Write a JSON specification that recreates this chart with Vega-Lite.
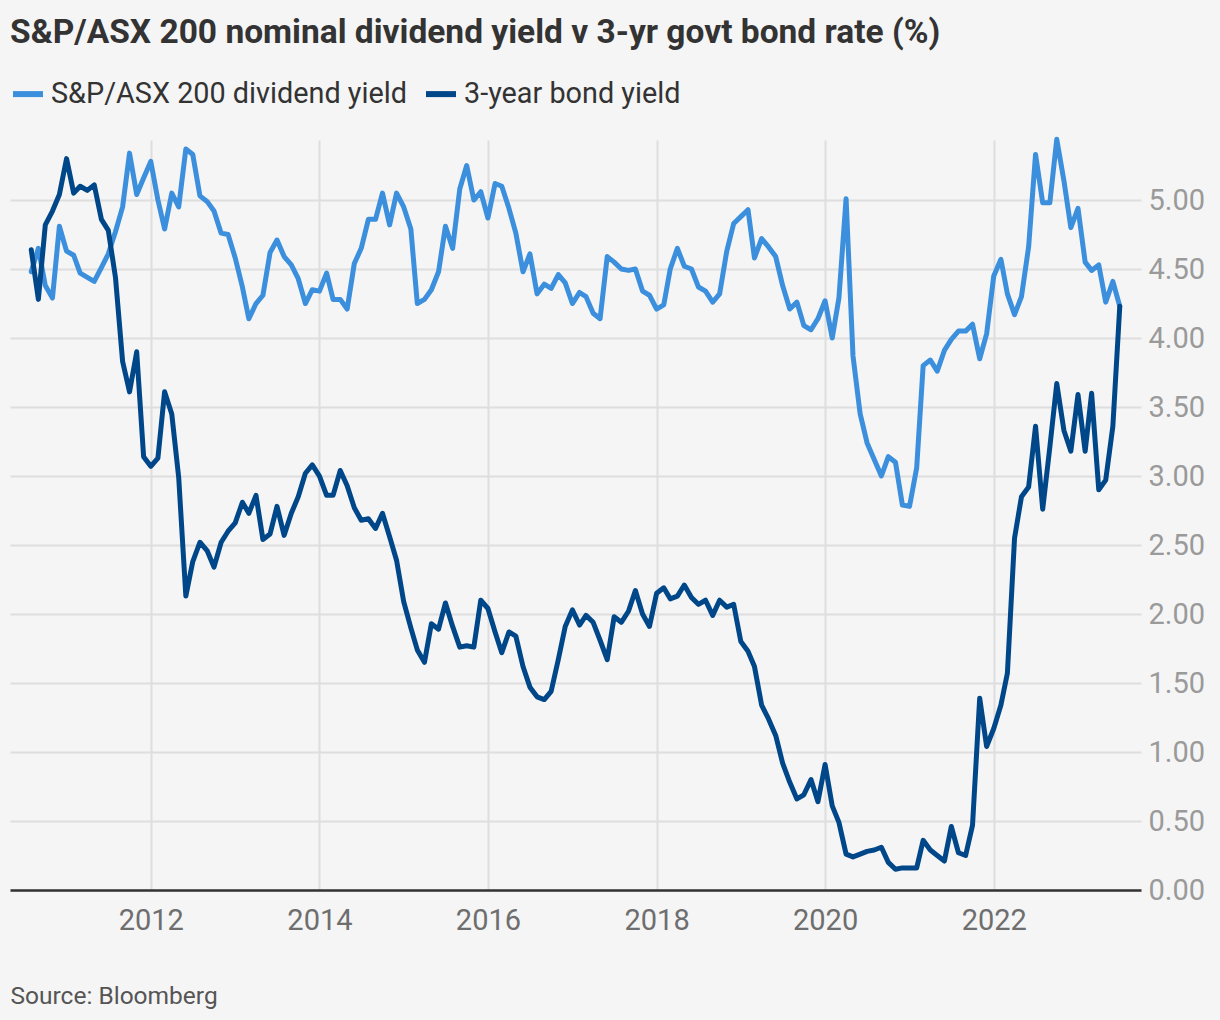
{
  "$schema": "https://vega.github.io/schema/vega-lite/v6.json",
  "width": 1131,
  "height": 750,
  "autosize": {"type": "none"},
  "padding": {"left": 10, "top": 140, "right": 79, "bottom": 130},
  "background": "#F5F5F5",
  "title": {
    "text": "S&P/ASX 200 nominal dividend yield v 3-yr govt bond rate (%)",
    "anchor": "start",
    "frame": "group",
    "font": "Roboto",
    "fontSize": 33.5,
    "fontWeight": "bold",
    "color": "#333333",
    "offset": 26
  },
  "config": {
    "view": {"stroke": null},
    "font": "Roboto",
    "axis": {"gridColor": "#DEDEDE", "gridWidth": 2, "ticks": false}
  },
  "datasets": {
    "dividend": [
      {"date": "2010-08-01", "value": 4.48}, {"date": "2010-09-01", "value": 4.65}, {"date": "2010-10-01", "value": 4.38}, {"date": "2010-11-01", "value": 4.29}, {"date": "2010-12-01", "value": 4.81},
      {"date": "2011-01-01", "value": 4.63}, {"date": "2011-02-01", "value": 4.60}, {"date": "2011-03-01", "value": 4.47}, {"date": "2011-04-01", "value": 4.44}, {"date": "2011-05-01", "value": 4.41}, {"date": "2011-06-01", "value": 4.51},
      {"date": "2011-07-01", "value": 4.61}, {"date": "2011-08-01", "value": 4.77}, {"date": "2011-09-01", "value": 4.95}, {"date": "2011-10-01", "value": 5.34}, {"date": "2011-11-01", "value": 5.04}, {"date": "2011-12-01", "value": 5.16},
      {"date": "2012-01-01", "value": 5.28}, {"date": "2012-02-01", "value": 5.00}, {"date": "2012-03-01", "value": 4.79}, {"date": "2012-04-01", "value": 5.05}, {"date": "2012-05-01", "value": 4.95}, {"date": "2012-06-01", "value": 5.37},
      {"date": "2012-07-01", "value": 5.33}, {"date": "2012-08-01", "value": 5.03}, {"date": "2012-09-01", "value": 4.99}, {"date": "2012-10-01", "value": 4.92}, {"date": "2012-11-01", "value": 4.76}, {"date": "2012-12-01", "value": 4.75},
      {"date": "2013-01-01", "value": 4.58}, {"date": "2013-02-01", "value": 4.37}, {"date": "2013-03-01", "value": 4.14}, {"date": "2013-04-01", "value": 4.25}, {"date": "2013-05-01", "value": 4.31}, {"date": "2013-06-01", "value": 4.62},
      {"date": "2013-07-01", "value": 4.71}, {"date": "2013-08-01", "value": 4.59}, {"date": "2013-09-01", "value": 4.53}, {"date": "2013-10-01", "value": 4.43}, {"date": "2013-11-01", "value": 4.25}, {"date": "2013-12-01", "value": 4.35},
      {"date": "2014-01-01", "value": 4.34}, {"date": "2014-02-01", "value": 4.47}, {"date": "2014-03-01", "value": 4.28}, {"date": "2014-04-01", "value": 4.28}, {"date": "2014-05-01", "value": 4.21}, {"date": "2014-06-01", "value": 4.54},
      {"date": "2014-07-01", "value": 4.65}, {"date": "2014-08-01", "value": 4.86}, {"date": "2014-09-01", "value": 4.86}, {"date": "2014-10-01", "value": 5.05}, {"date": "2014-11-01", "value": 4.82}, {"date": "2014-12-01", "value": 5.05},
      {"date": "2015-01-01", "value": 4.95}, {"date": "2015-02-01", "value": 4.79}, {"date": "2015-03-01", "value": 4.25}, {"date": "2015-04-01", "value": 4.28}, {"date": "2015-05-01", "value": 4.35}, {"date": "2015-06-01", "value": 4.48},
      {"date": "2015-07-01", "value": 4.81}, {"date": "2015-08-01", "value": 4.65}, {"date": "2015-09-01", "value": 5.08}, {"date": "2015-10-01", "value": 5.25}, {"date": "2015-11-01", "value": 5.00}, {"date": "2015-12-01", "value": 5.06},
      {"date": "2016-01-01", "value": 4.87}, {"date": "2016-02-01", "value": 5.12}, {"date": "2016-03-01", "value": 5.10}, {"date": "2016-04-01", "value": 4.94}, {"date": "2016-05-01", "value": 4.76}, {"date": "2016-06-01", "value": 4.48},
      {"date": "2016-07-01", "value": 4.61}, {"date": "2016-08-01", "value": 4.32}, {"date": "2016-09-01", "value": 4.39}, {"date": "2016-10-01", "value": 4.36}, {"date": "2016-11-01", "value": 4.46}, {"date": "2016-12-01", "value": 4.40},
      {"date": "2017-01-01", "value": 4.25}, {"date": "2017-02-01", "value": 4.33}, {"date": "2017-03-01", "value": 4.30}, {"date": "2017-04-01", "value": 4.18}, {"date": "2017-05-01", "value": 4.14}, {"date": "2017-06-01", "value": 4.59},
      {"date": "2017-07-01", "value": 4.55}, {"date": "2017-08-01", "value": 4.50}, {"date": "2017-09-01", "value": 4.49}, {"date": "2017-10-01", "value": 4.50}, {"date": "2017-11-01", "value": 4.34}, {"date": "2017-12-01", "value": 4.31},
      {"date": "2018-01-01", "value": 4.21}, {"date": "2018-02-01", "value": 4.24}, {"date": "2018-03-01", "value": 4.50}, {"date": "2018-04-01", "value": 4.65}, {"date": "2018-05-01", "value": 4.52}, {"date": "2018-06-01", "value": 4.50},
      {"date": "2018-07-01", "value": 4.37}, {"date": "2018-08-01", "value": 4.34}, {"date": "2018-09-01", "value": 4.26}, {"date": "2018-10-01", "value": 4.32}, {"date": "2018-11-01", "value": 4.63}, {"date": "2018-12-01", "value": 4.83},
      {"date": "2019-01-01", "value": 4.88}, {"date": "2019-02-01", "value": 4.93}, {"date": "2019-03-01", "value": 4.58}, {"date": "2019-04-01", "value": 4.72}, {"date": "2019-05-01", "value": 4.66}, {"date": "2019-06-01", "value": 4.59},
      {"date": "2019-07-01", "value": 4.38}, {"date": "2019-08-01", "value": 4.21}, {"date": "2019-09-01", "value": 4.26}, {"date": "2019-10-01", "value": 4.09}, {"date": "2019-11-01", "value": 4.06}, {"date": "2019-12-01", "value": 4.14},
      {"date": "2020-01-01", "value": 4.27}, {"date": "2020-02-01", "value": 4.00}, {"date": "2020-03-01", "value": 4.29}, {"date": "2020-04-01", "value": 5.01}, {"date": "2020-05-01", "value": 3.87}, {"date": "2020-06-01", "value": 3.45},
      {"date": "2020-07-01", "value": 3.24}, {"date": "2020-08-01", "value": 3.12}, {"date": "2020-09-01", "value": 3.00}, {"date": "2020-10-01", "value": 3.14}, {"date": "2020-11-01", "value": 3.10}, {"date": "2020-12-01", "value": 2.79},
      {"date": "2021-01-01", "value": 2.78}, {"date": "2021-02-01", "value": 3.06}, {"date": "2021-03-01", "value": 3.80}, {"date": "2021-04-01", "value": 3.84}, {"date": "2021-05-01", "value": 3.76}, {"date": "2021-06-01", "value": 3.91},
      {"date": "2021-07-01", "value": 3.99}, {"date": "2021-08-01", "value": 4.05}, {"date": "2021-09-01", "value": 4.05}, {"date": "2021-10-01", "value": 4.10}, {"date": "2021-11-01", "value": 3.85}, {"date": "2021-12-01", "value": 4.03},
      {"date": "2022-01-01", "value": 4.45}, {"date": "2022-02-01", "value": 4.57}, {"date": "2022-03-01", "value": 4.32}, {"date": "2022-04-01", "value": 4.17}, {"date": "2022-05-01", "value": 4.30}, {"date": "2022-06-01", "value": 4.66},
      {"date": "2022-07-01", "value": 5.33}, {"date": "2022-08-01", "value": 4.98}, {"date": "2022-09-01", "value": 4.98}, {"date": "2022-10-01", "value": 5.44}, {"date": "2022-11-01", "value": 5.14}, {"date": "2022-12-01", "value": 4.80},
      {"date": "2023-01-01", "value": 4.94}, {"date": "2023-02-01", "value": 4.55}, {"date": "2023-03-01", "value": 4.49}, {"date": "2023-04-01", "value": 4.53}, {"date": "2023-05-01", "value": 4.26}, {"date": "2023-06-01", "value": 4.41},
      {"date": "2023-07-01", "value": 4.23}
    ],
    "bond": [
      {"date": "2010-08-01", "value": 4.64}, {"date": "2010-09-01", "value": 4.28}, {"date": "2010-10-01", "value": 4.82}, {"date": "2010-11-01", "value": 4.92}, {"date": "2010-12-01", "value": 5.04},
      {"date": "2011-01-01", "value": 5.30}, {"date": "2011-02-01", "value": 5.05}, {"date": "2011-03-01", "value": 5.10}, {"date": "2011-04-01", "value": 5.07}, {"date": "2011-05-01", "value": 5.11}, {"date": "2011-06-01", "value": 4.86},
      {"date": "2011-07-01", "value": 4.78}, {"date": "2011-08-01", "value": 4.44}, {"date": "2011-09-01", "value": 3.83}, {"date": "2011-10-01", "value": 3.61}, {"date": "2011-11-01", "value": 3.90}, {"date": "2011-12-01", "value": 3.14},
      {"date": "2012-01-01", "value": 3.07}, {"date": "2012-02-01", "value": 3.13}, {"date": "2012-03-01", "value": 3.61}, {"date": "2012-04-01", "value": 3.45}, {"date": "2012-05-01", "value": 2.99}, {"date": "2012-06-01", "value": 2.13},
      {"date": "2012-07-01", "value": 2.38}, {"date": "2012-08-01", "value": 2.52}, {"date": "2012-09-01", "value": 2.46}, {"date": "2012-10-01", "value": 2.34}, {"date": "2012-11-01", "value": 2.52}, {"date": "2012-12-01", "value": 2.60},
      {"date": "2013-01-01", "value": 2.66}, {"date": "2013-02-01", "value": 2.81}, {"date": "2013-03-01", "value": 2.73}, {"date": "2013-04-01", "value": 2.86}, {"date": "2013-05-01", "value": 2.54}, {"date": "2013-06-01", "value": 2.58},
      {"date": "2013-07-01", "value": 2.78}, {"date": "2013-08-01", "value": 2.57}, {"date": "2013-09-01", "value": 2.73}, {"date": "2013-10-01", "value": 2.85}, {"date": "2013-11-01", "value": 3.02}, {"date": "2013-12-01", "value": 3.08},
      {"date": "2014-01-01", "value": 3.00}, {"date": "2014-02-01", "value": 2.86}, {"date": "2014-03-01", "value": 2.86}, {"date": "2014-04-01", "value": 3.04}, {"date": "2014-05-01", "value": 2.93}, {"date": "2014-06-01", "value": 2.77},
      {"date": "2014-07-01", "value": 2.68}, {"date": "2014-08-01", "value": 2.69}, {"date": "2014-09-01", "value": 2.62}, {"date": "2014-10-01", "value": 2.73}, {"date": "2014-11-01", "value": 2.56}, {"date": "2014-12-01", "value": 2.39},
      {"date": "2015-01-01", "value": 2.09}, {"date": "2015-02-01", "value": 1.90}, {"date": "2015-03-01", "value": 1.74}, {"date": "2015-04-01", "value": 1.65}, {"date": "2015-05-01", "value": 1.93}, {"date": "2015-06-01", "value": 1.89},
      {"date": "2015-07-01", "value": 2.08}, {"date": "2015-08-01", "value": 1.91}, {"date": "2015-09-01", "value": 1.76}, {"date": "2015-10-01", "value": 1.77}, {"date": "2015-11-01", "value": 1.76}, {"date": "2015-12-01", "value": 2.10},
      {"date": "2016-01-01", "value": 2.04}, {"date": "2016-02-01", "value": 1.87}, {"date": "2016-03-01", "value": 1.72}, {"date": "2016-04-01", "value": 1.87}, {"date": "2016-05-01", "value": 1.84}, {"date": "2016-06-01", "value": 1.62},
      {"date": "2016-07-01", "value": 1.47}, {"date": "2016-08-01", "value": 1.40}, {"date": "2016-09-01", "value": 1.38}, {"date": "2016-10-01", "value": 1.44}, {"date": "2016-11-01", "value": 1.67}, {"date": "2016-12-01", "value": 1.91},
      {"date": "2017-01-01", "value": 2.03}, {"date": "2017-02-01", "value": 1.92}, {"date": "2017-03-01", "value": 1.99}, {"date": "2017-04-01", "value": 1.94}, {"date": "2017-05-01", "value": 1.81}, {"date": "2017-06-01", "value": 1.67},
      {"date": "2017-07-01", "value": 1.98}, {"date": "2017-08-01", "value": 1.94}, {"date": "2017-09-01", "value": 2.02}, {"date": "2017-10-01", "value": 2.17}, {"date": "2017-11-01", "value": 2.00}, {"date": "2017-12-01", "value": 1.91},
      {"date": "2018-01-01", "value": 2.15}, {"date": "2018-02-01", "value": 2.19}, {"date": "2018-03-01", "value": 2.11}, {"date": "2018-04-01", "value": 2.13}, {"date": "2018-05-01", "value": 2.21}, {"date": "2018-06-01", "value": 2.12},
      {"date": "2018-07-01", "value": 2.07}, {"date": "2018-08-01", "value": 2.10}, {"date": "2018-09-01", "value": 1.99}, {"date": "2018-10-01", "value": 2.10}, {"date": "2018-11-01", "value": 2.05}, {"date": "2018-12-01", "value": 2.07},
      {"date": "2019-01-01", "value": 1.80}, {"date": "2019-02-01", "value": 1.73}, {"date": "2019-03-01", "value": 1.62}, {"date": "2019-04-01", "value": 1.34}, {"date": "2019-05-01", "value": 1.24}, {"date": "2019-06-01", "value": 1.12},
      {"date": "2019-07-01", "value": 0.92}, {"date": "2019-08-01", "value": 0.78}, {"date": "2019-09-01", "value": 0.66}, {"date": "2019-10-01", "value": 0.69}, {"date": "2019-11-01", "value": 0.80}, {"date": "2019-12-01", "value": 0.64},
      {"date": "2020-01-01", "value": 0.91}, {"date": "2020-02-01", "value": 0.61}, {"date": "2020-03-01", "value": 0.49}, {"date": "2020-04-01", "value": 0.26}, {"date": "2020-05-01", "value": 0.24}, {"date": "2020-06-01", "value": 0.26},
      {"date": "2020-07-01", "value": 0.28}, {"date": "2020-08-01", "value": 0.29}, {"date": "2020-09-01", "value": 0.31}, {"date": "2020-10-01", "value": 0.20}, {"date": "2020-11-01", "value": 0.15}, {"date": "2020-12-01", "value": 0.16},
      {"date": "2021-01-01", "value": 0.16}, {"date": "2021-02-01", "value": 0.16}, {"date": "2021-03-01", "value": 0.36}, {"date": "2021-04-01", "value": 0.29}, {"date": "2021-05-01", "value": 0.25}, {"date": "2021-06-01", "value": 0.21},
      {"date": "2021-07-01", "value": 0.46}, {"date": "2021-08-01", "value": 0.27}, {"date": "2021-09-01", "value": 0.25}, {"date": "2021-10-01", "value": 0.47}, {"date": "2021-11-01", "value": 1.39}, {"date": "2021-12-01", "value": 1.04},
      {"date": "2022-01-01", "value": 1.17}, {"date": "2022-02-01", "value": 1.34}, {"date": "2022-03-01", "value": 1.57}, {"date": "2022-04-01", "value": 2.55}, {"date": "2022-05-01", "value": 2.85}, {"date": "2022-06-01", "value": 2.92},
      {"date": "2022-07-01", "value": 3.36}, {"date": "2022-08-01", "value": 2.76}, {"date": "2022-09-01", "value": 3.21}, {"date": "2022-10-01", "value": 3.67}, {"date": "2022-11-01", "value": 3.33}, {"date": "2022-12-01", "value": 3.18},
      {"date": "2023-01-01", "value": 3.59}, {"date": "2023-02-01", "value": 3.18}, {"date": "2023-03-01", "value": 3.60}, {"date": "2023-04-01", "value": 2.90}, {"date": "2023-05-01", "value": 2.97}, {"date": "2023-06-01", "value": 3.36},
      {"date": "2023-07-01", "value": 4.23}
    ]
  },
  "encoding": {
    "x": {
      "field": "date",
      "type": "temporal",
      "scale": {"domain": [{"year": 2010, "month": 5, "date": 1}, {"year": 2023, "month": 10, "date": 1}]},
      "axis": {
        "values": [{"year": 2012}, {"year": 2014}, {"year": 2016}, {"year": 2018}, {"year": 2020}, {"year": 2022}],
        "format": "%Y",
        "domain": true,
        "domainColor": "#333333",
        "domainWidth": 2.5,
        "labelColor": "#6E6E6E",
        "labelFontSize": 29,
        "labelPadding": 16,
        "title": "Source: Bloomberg",
        "titleAnchor": "start",
        "titleAlign": "left",
        "titleBaseline": "alphabetic",
        "titleX": 0,
        "titleY": 113,
        "titleFontSize": 24.5,
        "titleFontWeight": "normal",
        "titleColor": "#555555"
      }
    },
    "y": {
      "field": "value",
      "type": "quantitative",
      "scale": {"domain": [0, 5.435], "nice": false},
      "axis": {
        "orient": "right",
        "values": [0, 0.5, 1, 1.5, 2, 2.5, 3, 3.5, 4, 4.5, 5],
        "format": ".2f",
        "domain": false,
        "labelColor": "#9A9A9A",
        "labelFontSize": 29,
        "labelPadding": 7,
        "title": null
      }
    },
    "color": {
      "scale": {
        "domain": ["S&P/ASX 200 dividend yield", "3-year bond yield"],
        "range": ["#3B8FDC", "#004789"]
      },
      "legend": {
        "title": null,
        "orient": "none",
        "direction": "horizontal",
        "legendX": 0,
        "legendY": -64,
        "symbolType": "stroke",
        "symbolStrokeWidth": 6,
        "symbolSize": 900,
        "labelFontSize": 28.8,
        "labelColor": "#333333",
        "labelOffset": 5,
        "columnPadding": 7,
        "labelLimit": 500
      }
    }
  },
  "layer": [
    {
      "data": {"name": "dividend"},
      "mark": {"type": "line", "strokeWidth": 5, "strokeJoin": "round", "strokeCap": "round"},
      "encoding": {"color": {"datum": "S&P/ASX 200 dividend yield"}}
    },
    {
      "data": {"name": "bond"},
      "mark": {"type": "line", "strokeWidth": 5, "strokeJoin": "round", "strokeCap": "round"},
      "encoding": {"color": {"datum": "3-year bond yield"}}
    }
  ]
}
